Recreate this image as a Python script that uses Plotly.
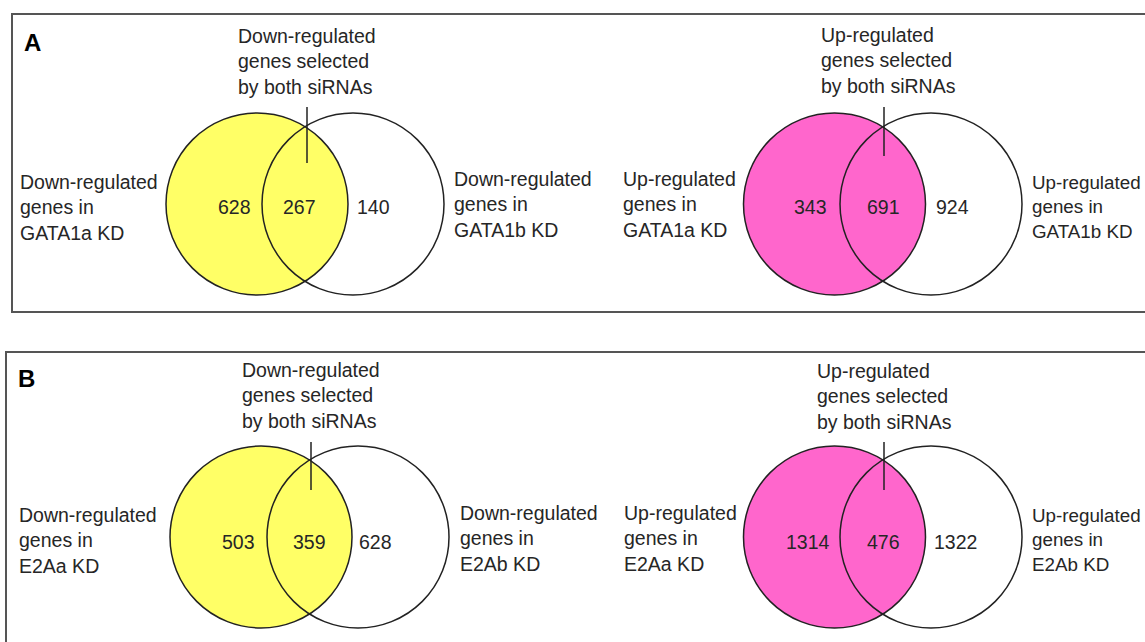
import plotly.graph_objects as go

# ---------------- data ----------------
panels = ["A", "B"]
sirna_a = ["GATA1a", "E2Aa"]
sirna_b = ["GATA1b", "E2Ab"]
down_a_only = [628, 503]
down_both = [267, 359]
down_b_only = [140, 628]
up_a_only = [343, 1314]
up_both = [691, 476]
up_b_only = [924, 1322]

# ---------------- layout geometry (pixels) ----------------
W, H = 1145, 642
R = 91
geo = [
    dict(box=(12, 14, 1160, 312), letter=(23, 42),
         down=dict(cl=(257, 204), cr=(353, 204), nums=(234, 299, 373), ny=207,
                   tick=(307, 107, 163), title=(237, 61), left=(19, 207), right=(453, 204)),
         up=dict(cl=(834.5, 204), cr=(931, 204), nums=(810, 883, 952), ny=207,
                 tick=(884, 107, 156), title=(820, 60), left=(622, 204), right=(1031, 207))),
    dict(box=(6, 352, 1160, 660), letter=(17, 378),
         down=dict(cl=(261, 537), cr=(358, 537), nums=(238, 309, 375), ny=542,
                   tick=(311, 442, 490), title=(241, 395), left=(18, 540), right=(459, 538)),
         up=dict(cl=(834.5, 537), cr=(931, 537), nums=(808, 883, 955), ny=542,
                 tick=(884, 442, 490), title=(816, 396), left=(623, 538), right=(1031, 540))),
]

YELLOW = "#FFFF66"
PINK = "#FF66CC"
LINE = "#222222"
TXT = "#262626"
FONT = "Liberation Sans, Arial, sans-serif"
FS = 19.5

fig = go.Figure()
shapes = []
annots = []


def txt(x, y, s, xanchor="left", size=FS, bold=False):
    annots.append(dict(
        x=x, y=y, xref="x", yref="y", text=("<b>%s</b>" % s) if bold else s,
        showarrow=False, xanchor=xanchor, yanchor="middle", align="left",
        font=dict(family=FONT, size=size, color=TXT if not bold else "#000"),
        borderpad=0,
    ))


for i, p in enumerate(panels):
    g = geo[i]
    x0, y0, x1, y1 = g["box"]
    shapes.append(dict(type="rect", xref="x", yref="y", x0=x0, y0=y0, x1=x1, y1=y1,
                       line=dict(color="#555555", width=2), fillcolor="rgba(0,0,0,0)"))
    txt(g["letter"][0], g["letter"][1], p, size=24, bold=True)

    for kind, fill, vals, word in [
        ("down", YELLOW, (down_a_only[i], down_both[i], down_b_only[i]), "Down-regulated"),
        ("up", PINK, (up_a_only[i], up_both[i], up_b_only[i]), "Up-regulated"),
    ]:
        d = g[kind]
        (lx, ly), (rx, ry) = d["cl"], d["cr"]
        shapes.append(dict(type="circle", xref="x", yref="y",
                           x0=lx - R, x1=lx + R, y0=ly - R, y1=ly + R,
                           fillcolor=fill, line=dict(color=LINE, width=1.5)))
        shapes.append(dict(type="circle", xref="x", yref="y",
                           x0=rx - R, x1=rx + R, y0=ry - R, y1=ry + R,
                           fillcolor="rgba(0,0,0,0)", line=dict(color=LINE, width=1.5)))
        tx, ty0, ty1 = d["tick"]
        shapes.append(dict(type="line", xref="x", yref="y", x0=tx, x1=tx, y0=ty0, y1=ty1,
                           line=dict(color=LINE, width=1.5)))
        for nx, v in zip(d["nums"], vals):
            txt(nx, d["ny"], str(v), xanchor="center")
        txt(d["title"][0], d["title"][1], f"{word}<br>genes selected<br>by both siRNAs")
        txt(d["left"][0], d["left"][1], f"{word}<br>genes in<br>{sirna_a[i]} KD")
        txt(d["right"][0], d["right"][1], f"{word}<br>genes in<br>{sirna_b[i]} KD",
            size=18.8 if kind == "up" else FS)

fig.update_layout(
    width=W, height=H, margin=dict(l=0, r=0, t=0, b=0),
    paper_bgcolor="white", plot_bgcolor="white",
    xaxis=dict(range=[0, W], visible=False, fixedrange=True),
    yaxis=dict(range=[H, 0], visible=False, fixedrange=True),
    shapes=shapes, annotations=annots, showlegend=False,
)
fig.write_html(
    "out.html",
    config={"displayModeBar": False},
    post_script="document.body.style.margin='0';document.body.style.overflow='hidden';",
)
